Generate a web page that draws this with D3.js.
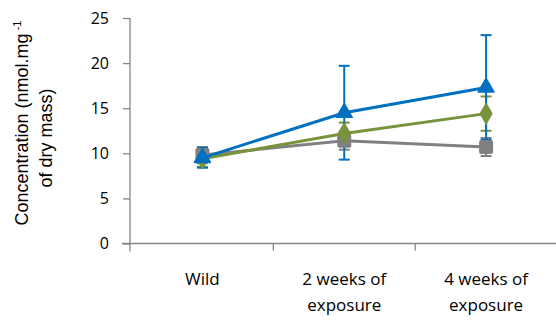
<!DOCTYPE html>
<html><head><meta charset="utf-8">
<script src="https://cdn.jsdelivr.net/npm/d3@7"></script>
<style>body{margin:0;background:#fff}svg{display:block}text{fill:#000}</style>
</head><body><svg id="c" width="556" height="320"></svg>
<script>
const categories = [["Wild"], ["2 weeks of","exposure"], ["4 weeks of","exposure"]];
const yTicks = [0,5,10,15,20,25];
const grayVals = [9.8, 11.4, 10.7];
const grayErr = [0.9, 1.0, 1.0];
const greenVals = [9.4, 12.2, 14.4];
const greenErr = [0.9, 1.2, 1.9];
const blueVals = [9.5, 14.5, 17.3];
const blueErr = [1.1, 5.2, 5.8];

(function(){
const series = [
  {vals: grayVals, err: grayErr, color: "#808080", sym: "square"},
  {vals: greenVals, err: greenErr, color: "#77933C", sym: "diamond"},
  {vals: blueVals, err: blueErr, color: "#0070C0", sym: "triangle"}
];
const OS = "'Open Sans', 'Liberation Sans', sans-serif";
const LS = "'Liberation Sans', Arial, sans-serif";

const svg = d3.select("#c");
const mL = 130, mR = 557, mT = 18, mB = 243.5;
const x = d3.scaleBand().domain(d3.range(categories.length)).range([mL+1.5, mR]);
const y = d3.scaleLinear().domain([0,25]).range([mB, mT]);

// y axis
const ya = svg.append("g").attr("transform",`translate(${mL},0)`)
  .call(d3.axisLeft(y).tickValues(yTicks).tickSize(7).tickSizeOuter(0).tickPadding(14));
ya.select(".domain").attr("stroke","#868686").attr("stroke-width",1.3).attr("d",`M0,${mT}V${mB+8}`);
ya.selectAll(".tick line").attr("stroke","#868686").attr("stroke-width",1.3);
ya.selectAll(".tick text").style("font-size","16px").style("font-family",OS).attr("fill","#000");

// x axis
const xa = svg.append("g").attr("transform",`translate(0,${mB})`);
xa.append("line").attr("x1",mL-8).attr("x2",mR).attr("stroke","#868686").attr("stroke-width",1.3);
const xTickPos = d3.range(categories.length).map(i=>x(i)).concat([x(categories.length-1)+x.bandwidth()]);
xa.selectAll("line.t").data(xTickPos.slice(1)).join("line").attr("class","t")
  .attr("x1",d=>d).attr("x2",d=>d).attr("y1",0).attr("y2",7).attr("stroke","#868686").attr("stroke-width",1.3);
categories.forEach((lines,i)=>{
  const t = xa.append("text").attr("text-anchor","middle").style("font-size","17px").style("font-family",OS);
  lines.forEach((l,j)=>t.append("tspan").attr("x",x(i)+x.bandwidth()/2).attr("y",41+j*26).text(l));
});

// y label
const yl1 = svg.append("text").attr("transform","translate(28,123) rotate(-90)").attr("text-anchor","middle")
  .style("font-size","18px").style("font-family",LS);
yl1.append("tspan").text("Concentration (nmol.mg");
yl1.append("tspan").style("font-size","11px").attr("dy",-7).text(" -1");
svg.append("text").attr("transform","translate(52,138) rotate(-90)").attr("text-anchor","middle")
  .style("font-size","18px").style("font-family",LS).text("of dry mass)");

const cx = i => x(i) + x.bandwidth()/2;

// error bars
series.forEach(s=>{
  const g = svg.append("g").attr("stroke",s.color).attr("stroke-width",2);
  s.vals.forEach((v,i)=>{
    const e = s.err[i];
    g.append("line").attr("x1",cx(i)).attr("x2",cx(i)).attr("y1",y(v-e)).attr("y2",y(v+e));
    [v-e,v+e].forEach(b=>g.append("line").attr("x1",cx(i)-5.5).attr("x2",cx(i)+5.5).attr("y1",y(b)).attr("y2",y(b)));
  });
});

// lines and markers
const line = d3.line().x((d,i)=>cx(i)).y(d=>y(d));
series.forEach(s=>{
  svg.append("path").datum(s.vals).attr("d",line).attr("fill","none").attr("stroke",s.color).attr("stroke-width",3);
  s.vals.forEach((v,i)=>{
    if (s.sym==="square") {
      svg.append("rect").attr("x",cx(i)-7).attr("y",y(v)-7).attr("width",14).attr("height",14).attr("rx",2)
        .attr("fill",s.color);
    } else {
      const sym = s.sym==="diamond" ? d3.symbolDiamond : d3.symbolTriangle;
      const size = s.sym==="diamond" ? 115 : 110;
      svg.append("path").attr("d",d3.symbol(sym,size)()).attr("transform",`translate(${cx(i)},${y(v)})`)
        .attr("fill",s.color).attr("stroke",s.color).attr("stroke-width",1.5).attr("stroke-linejoin","round");
    }
  });
});
})();
</script></body></html>
